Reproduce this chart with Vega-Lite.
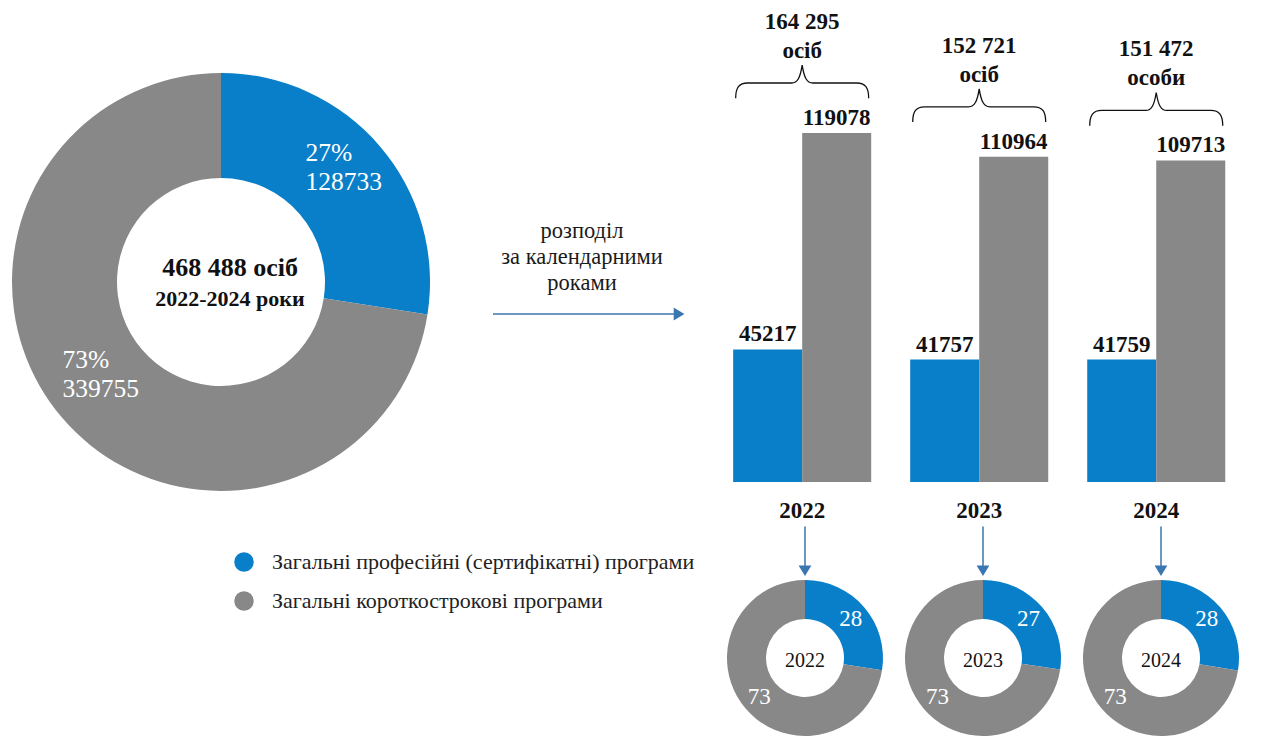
{
  "$schema": "https://vega.github.io/schema/vega-lite/v6.json",
  "padding": 0,
  "background": "white",
  "spacing": 0,
  "bounds": "flush",
  "config": {
    "view": {"stroke": null},
    "font": "Liberation Serif",
    "text": {"font": "Liberation Serif"},
    "concat": {"spacing": 0}
  },
  "datasets": {
    "overall": [
      {"category": "Загальні професійні (сертифікатні) програми", "value": 128733, "label": "27%\n128733"},
      {"category": "Загальні короткострокові програми", "value": 339755, "label": "73%\n339755"}
    ],
    "yearly": [
      {"year": "2022", "category": "Загальні професійні (сертифікатні) програми", "value": 45217, "pct": "28"},
      {"year": "2022", "category": "Загальні короткострокові програми", "value": 119078, "pct": "73"},
      {"year": "2023", "category": "Загальні професійні (сертифікатні) програми", "value": 41757, "pct": "27"},
      {"year": "2023", "category": "Загальні короткострокові програми", "value": 110964, "pct": "73"},
      {"year": "2024", "category": "Загальні професійні (сертифікатні) програми", "value": 41759, "pct": "28"},
      {"year": "2024", "category": "Загальні короткострокові програми", "value": 109713, "pct": "73"}
    ],
    "totals": [
      {"year": "2022", "total": "164 295", "unit": "осіб"},
      {"year": "2023", "total": "152 721", "unit": "осіб"},
      {"year": "2024", "total": "151 472", "unit": "особи"}
    ],
    "summary": [{"total": "468 488 осіб", "period": "2022-2024 роки"}],
    "note": [{"text": "розподіл\nза календарними\nроками"}]
  },
  "hconcat": [
    {
      "width": 442,
      "height": 564,
      "data": {"name": "overall"},
      "layer": [
        {
          "mark": {"type": "arc", "radius": 209, "radius2": 104},
          "encoding": {
            "theta": {"field": "value", "type": "quantitative", "stack": "normalize"},
            "order": {"field": "category", "type": "nominal", "sort": "descending"},
            "color": {
              "field": "category", "type": "nominal",
              "scale": {"domain": ["Загальні професійні (сертифікатні) програми", "Загальні короткострокові програми"], "range": ["#0A7FC9", "#888888"]},
              "legend": {
                "orient": "none", "legendX": 233, "legendY": 551, "direction": "vertical",
                "title": null, "symbolType": "circle", "symbolSize": 380, "symbolStrokeWidth": 0,
                "symbolOpacity": 1, "labelFont": "Liberation Serif", "labelFontSize": 22,
                "labelColor": "#222222", "labelLimit": 0, "labelOffset": 17, "rowPadding": 17, "padding": 0
              }
            }
          }
        },
        {
          "mark": {"type": "text", "radius": 160, "fontSize": 25.5, "color": "white", "align": "left", "lineBreak": "\n", "lineHeight": 29, "dx": -37, "dy": -25.5},
          "encoding": {
            "theta": {"field": "value", "type": "quantitative", "stack": "normalize"},
            "order": {"field": "category", "type": "nominal", "sort": "descending"},
            "text": {"field": "label", "type": "nominal"}
          }
        },
        {
          "data": {"name": "summary"},
          "mark": {"type": "text", "fontSize": 26, "fontWeight": "bold", "color": "#111111", "dx": 9, "dy": -14},
          "encoding": {"text": {"field": "total", "type": "nominal"}}
        },
        {
          "data": {"name": "summary"},
          "mark": {"type": "text", "fontSize": 22, "fontWeight": "bold", "color": "#111111", "dx": 9, "dy": 16.5},
          "encoding": {"text": {"field": "period", "type": "nominal"}}
        }
      ]
    },
    {
      "width": 284,
      "height": 564,
      "layer": [
        {
          "data": {"name": "note"},
          "mark": {"type": "text", "fontSize": 22.5, "lineHeight": 26, "lineBreak": "\n", "color": "#1a1a1a", "dx": -2, "dy": -51},
          "encoding": {"text": {"field": "text", "type": "nominal"}}
        },
        {
          "data": {"values": [{}]},
          "mark": {
            "type": "point",
            "shape": "M-1,0 L0.92,0 M0.91,-0.055 L1,0 L0.91,0.055 Z",
            "size": 36100, "filled": true, "fill": "#3A77B0", "stroke": "#3A77B0",
            "strokeWidth": 1.5, "opacity": 1, "xOffset": 4, "yOffset": 32
          },
          "encoding": {}
        }
      ]
    },
    {
      "spacing": 0,
      "bounds": "full",
      "vconcat": [
        {
          "width": 510,
          "height": 482,
          "data": {"name": "yearly"},
          "encoding": {
            "x": {
              "field": "year", "type": "nominal",
              "scale": {"paddingInner": 0.2203, "paddingOuter": 0.0506, "align": 0.4},
              "axis": {
                "title": null, "domain": false, "ticks": false, "tickSize": 0, "labelAngle": 0,
                "labelPadding": 17, "labelFont": "Liberation Serif", "labelFontSize": 23,
                "labelFontWeight": "bold", "labelColor": "#111111"
              }
            },
            "y": {
              "field": "value", "type": "quantitative",
              "scale": {"domain": [0, 164460], "nice": false, "zero": true},
              "axis": null
            }
          },
          "layer": [
            {
              "mark": {"type": "bar"},
              "encoding": {
                "xOffset": {
                  "field": "category", "type": "nominal",
                  "scale": {"domain": ["Загальні професійні (сертифікатні) програми", "Загальні короткострокові програми"], "paddingInner": 0, "paddingOuter": 0}
                },
                "color": {
                  "field": "category", "type": "nominal",
                  "scale": {"domain": ["Загальні професійні (сертифікатні) програми", "Загальні короткострокові програми"], "range": ["#0A7FC9", "#888888"]},
                  "legend": null
                }
              }
            },
            {
              "mark": {"type": "text", "fontSize": 23, "fontWeight": "bold", "baseline": "alphabetic", "dy": -8, "color": "#111111"},
              "encoding": {
                "xOffset": {
                  "field": "category", "type": "nominal",
                  "scale": {"domain": ["Загальні професійні (сертифікатні) програми", "Загальні короткострокові програми"], "paddingInner": 0, "paddingOuter": 0}
                },
                "text": {"field": "value", "type": "quantitative", "format": "d"}
              }
            },
            {
              "transform": [
                {"filter": {"field": "category", "equal": "Загальні короткострокові програми"}},
                {"lookup": "year", "from": {"data": {"name": "totals"}, "key": "year", "fields": ["total", "unit"]}}
              ],
              "layer": [
                {
                  "mark": {
                    "type": "point",
                    "shape": "M-1,0.23 C-1,0.07 -0.95,0 -0.82,0 L-0.16,0 C-0.07,0 -0.03,-0.08 0,-0.27 C0.03,-0.08 0.07,0 0.16,0 L0.82,0 C0.95,0 1,0.07 1,0.23",
                    "size": 17689, "filled": false, "color": "#111111", "strokeWidth": 1.3,
                    "opacity": 1, "yOffset": -50
                  }
                },
                {
                  "mark": {"type": "text", "fontSize": 23, "fontWeight": "bold", "color": "#111111", "dy": -111},
                  "encoding": {"text": {"field": "total", "type": "nominal"}}
                },
                {
                  "mark": {"type": "text", "fontSize": 23, "fontWeight": "bold", "color": "#111111", "dy": -82},
                  "encoding": {"text": {"field": "unit", "type": "nominal"}}
                }
              ]
            }
          ]
        },
        {
          "data": {"name": "yearly"},
          "transform": [{"filter": {"field": "category", "equal": "Загальні професійні (сертифікатні) програми"}}],
          "facet": {"column": {"field": "year", "type": "ordinal", "header": null}},
          "spacing": 20,
          "spec": {
            "width": 158,
            "height": 57,
            "mark": {
              "type": "point",
              "shape": "M0,-1 L0,0.68 M-0.21,0.66 L0,1 L0.21,0.66 Z",
              "size": 2304, "filled": true, "fill": "#3A77B0", "stroke": "#3A77B0",
              "strokeWidth": 1.5, "opacity": 1, "yOffset": 0
            },
            "encoding": {}
          }
        },
        {
          "data": {"name": "yearly"},
          "facet": {"column": {"field": "year", "type": "ordinal", "header": null}},
          "spacing": 20,
          "spec": {
            "width": 158,
            "height": 158,
            "layer": [
              {
                "mark": {"type": "arc", "radius": 78, "radius2": 39},
                "encoding": {
                  "theta": {"field": "value", "type": "quantitative", "stack": "normalize"},
                  "order": {"field": "category", "type": "nominal", "sort": "descending"},
                  "color": {
                    "field": "category", "type": "nominal",
                    "scale": {"domain": ["Загальні професійні (сертифікатні) програми", "Загальні короткострокові програми"], "range": ["#0A7FC9", "#888888"]},
                    "legend": null
                  }
                }
              },
              {
                "mark": {"type": "text", "radius": 60, "fontSize": 23, "color": "white"},
                "encoding": {
                  "theta": {"field": "value", "type": "quantitative", "stack": "normalize"},
                  "order": {"field": "category", "type": "nominal", "sort": "descending"},
                  "text": {"field": "pct", "type": "nominal"}
                }
              },
              {
                "transform": [{"filter": {"field": "category", "equal": "Загальні професійні (сертифікатні) програми"}}],
                "mark": {"type": "text", "fontSize": 20, "color": "#111111", "dy": 3},
                "encoding": {"text": {"field": "year", "type": "nominal"}}
              }
            ]
          }
        }
      ]
    }
  ]
}
